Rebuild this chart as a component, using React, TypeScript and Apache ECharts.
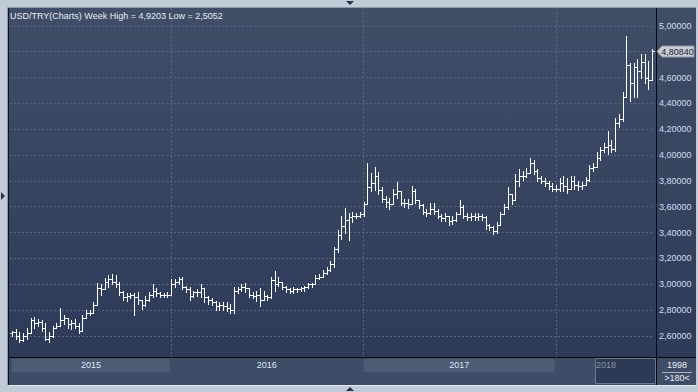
import React, { useEffect, useRef } from 'react';
import * as echarts from 'echarts';

type Bar = [number, number, number, number]; // open, high, low, close

const titleText = 'USD/TRY(Charts) Week High = 4,9203 Low = 2,5052';
const yearLabels = ['2015', '2016', '2017', '2018'];
const priceTicks = [2.6, 2.8, 3.0, 3.2, 3.4, 3.6, 3.8, 4.0, 4.2, 4.4, 4.6, 4.8, 5.0];
const lastPrice = 4.8084;
const cornerTop = '1998';
const cornerBottom = '>180<';

const bars2015: Bar[] = [
  [2.62, 2.64, 2.6, 2.63], [2.63, 2.65, 2.58, 2.6], [2.6, 2.63, 2.55, 2.57], [2.57, 2.62, 2.56, 2.6],
  [2.6, 2.66, 2.58, 2.62], [2.62, 2.74, 2.62, 2.72], [2.72, 2.75, 2.66, 2.7], [2.7, 2.73, 2.68, 2.71],
  [2.71, 2.72, 2.64, 2.66], [2.66, 2.7, 2.57, 2.58], [2.58, 2.63, 2.55, 2.6], [2.6, 2.68, 2.59, 2.66],
  [2.66, 2.7, 2.66, 2.68], [2.68, 2.82, 2.68, 2.72], [2.72, 2.76, 2.69, 2.74], [2.74, 2.74, 2.66, 2.69],
  [2.69, 2.72, 2.65, 2.7], [2.7, 2.73, 2.66, 2.68], [2.68, 2.7, 2.62, 2.64], [2.64, 2.76, 2.64, 2.74],
  [2.74, 2.8, 2.74, 2.78], [2.78, 2.8, 2.76, 2.78], [2.78, 2.86, 2.78, 2.84], [2.84, 3.01, 2.84, 2.97],
  [2.97, 3.0, 2.92, 2.96], [2.96, 3.05, 2.96, 3.02], [3.02, 3.07, 2.98, 3.04], [3.04, 3.08, 3.0, 3.02],
  [3.02, 3.07, 2.98, 3.0], [3.0, 3.02, 2.92, 2.94], [2.94, 2.95, 2.88, 2.9], [2.9, 2.93, 2.87, 2.91],
  [2.91, 2.93, 2.89, 2.92], [2.92, 2.93, 2.76, 2.9], [2.9, 2.94, 2.85, 2.88], [2.88, 2.88, 2.81, 2.84],
  [2.84, 2.91, 2.83, 2.88], [2.88, 2.94, 2.87, 2.92], [2.92, 3.0, 2.9, 2.95], [2.95, 2.97, 2.91, 2.93],
  [2.93, 2.94, 2.9, 2.92], [2.92, 2.93, 2.9, 2.92], [2.92, 2.94, 2.9, 2.92],
];

const bars2016: Bar[] = [
  [2.92, 3.04, 2.92, 3.0], [3.0, 3.04, 2.98, 3.02], [3.02, 3.06, 3.0, 3.04], [3.04, 3.06, 2.96, 2.98],
  [2.98, 2.99, 2.94, 2.96], [2.96, 2.98, 2.88, 2.91], [2.91, 2.95, 2.9, 2.94], [2.94, 2.96, 2.91, 2.94],
  [2.94, 3.0, 2.9, 2.97], [2.97, 2.97, 2.86, 2.9], [2.9, 2.91, 2.85, 2.88], [2.88, 2.89, 2.84, 2.86],
  [2.86, 2.87, 2.8, 2.83], [2.83, 2.86, 2.8, 2.84], [2.84, 2.86, 2.8, 2.83], [2.83, 2.86, 2.79, 2.82],
  [2.82, 2.85, 2.78, 2.8], [2.8, 2.98, 2.78, 2.95], [2.95, 2.98, 2.93, 2.96], [2.96, 3.0, 2.95, 2.98],
  [2.98, 3.01, 2.94, 2.97], [2.97, 2.97, 2.9, 2.92], [2.92, 2.94, 2.89, 2.91], [2.91, 2.95, 2.87, 2.92],
  [2.92, 2.97, 2.83, 2.88], [2.88, 2.95, 2.88, 2.91], [2.91, 2.92, 2.88, 2.9], [2.9, 3.06, 2.89, 3.03],
  [3.03, 3.1, 2.95, 3.0], [3.0, 3.06, 2.99, 3.02], [3.02, 3.02, 2.96, 2.98], [2.98, 2.99, 2.94, 2.96],
  [2.96, 2.97, 2.93, 2.95], [2.95, 2.98, 2.93, 2.96], [2.96, 2.97, 2.94, 2.96], [2.96, 2.98, 2.95, 2.97],
  [2.97, 2.99, 2.95, 2.98], [2.98, 3.01, 2.97, 3.0], [3.0, 3.01, 2.98, 3.0], [3.0, 3.07, 3.0, 3.05],
  [3.05, 3.08, 3.04, 3.06], [3.06, 3.11, 3.06, 3.09], [3.09, 3.13, 3.08, 3.11], [3.11, 3.18, 3.1, 3.16],
  [3.16, 3.29, 3.13, 3.27], [3.27, 3.42, 3.25, 3.38], [3.38, 3.53, 3.35, 3.45], [3.45, 3.59, 3.4, 3.5],
  [3.5, 3.55, 3.34, 3.52], [3.52, 3.56, 3.48, 3.53], [3.53, 3.55, 3.51, 3.53], [3.53, 3.56, 3.52, 3.54],
];

const bars2017: Bar[] = [
  [3.54, 3.64, 3.53, 3.62], [3.62, 3.94, 3.62, 3.75], [3.75, 3.86, 3.72, 3.78], [3.78, 3.91, 3.73, 3.84],
  [3.84, 3.87, 3.7, 3.73], [3.73, 3.75, 3.64, 3.66], [3.66, 3.68, 3.6, 3.64], [3.64, 3.67, 3.58, 3.62],
  [3.62, 3.74, 3.62, 3.7], [3.7, 3.79, 3.67, 3.72], [3.72, 3.72, 3.61, 3.63], [3.63, 3.66, 3.6, 3.63],
  [3.63, 3.66, 3.59, 3.62], [3.62, 3.76, 3.62, 3.72], [3.72, 3.74, 3.63, 3.65], [3.65, 3.65, 3.59, 3.61],
  [3.61, 3.62, 3.54, 3.56], [3.56, 3.58, 3.53, 3.55], [3.55, 3.63, 3.54, 3.58], [3.58, 3.63, 3.54, 3.57],
  [3.57, 3.58, 3.51, 3.53], [3.53, 3.54, 3.49, 3.51], [3.51, 3.55, 3.49, 3.53], [3.53, 3.53, 3.46, 3.49],
  [3.49, 3.53, 3.47, 3.5], [3.5, 3.56, 3.49, 3.54], [3.54, 3.65, 3.54, 3.6], [3.6, 3.61, 3.51, 3.53],
  [3.53, 3.55, 3.5, 3.52], [3.52, 3.55, 3.5, 3.53], [3.53, 3.55, 3.5, 3.52], [3.52, 3.55, 3.5, 3.53],
  [3.53, 3.54, 3.5, 3.52], [3.52, 3.53, 3.43, 3.46], [3.46, 3.47, 3.42, 3.44], [3.44, 3.45, 3.39, 3.41],
  [3.41, 3.48, 3.4, 3.46], [3.46, 3.56, 3.46, 3.54], [3.54, 3.62, 3.54, 3.6], [3.6, 3.75, 3.58, 3.7],
  [3.7, 3.7, 3.62, 3.65], [3.65, 3.85, 3.65, 3.8], [3.8, 3.89, 3.76, 3.84], [3.84, 3.88, 3.81, 3.84],
  [3.84, 3.9, 3.83, 3.86], [3.86, 3.98, 3.86, 3.94], [3.94, 3.96, 3.85, 3.88], [3.88, 3.89, 3.8, 3.82],
  [3.82, 3.84, 3.78, 3.8], [3.8, 3.82, 3.76, 3.78], [3.78, 3.8, 3.74, 3.76], [3.76, 3.78, 3.72, 3.74],
];

const bars2018: Bar[] = [
  [3.74, 3.77, 3.72, 3.74], [3.74, 3.82, 3.72, 3.78], [3.78, 3.84, 3.72, 3.76], [3.76, 3.82, 3.71, 3.74],
  [3.74, 3.84, 3.74, 3.8], [3.8, 3.84, 3.74, 3.77], [3.77, 3.8, 3.73, 3.76], [3.76, 3.79, 3.74, 3.77],
  [3.77, 3.83, 3.77, 3.81], [3.81, 3.92, 3.8, 3.9], [3.9, 3.94, 3.88, 3.91], [3.91, 4.02, 3.91, 3.98],
  [3.98, 4.06, 3.96, 4.04], [4.04, 4.09, 4.02, 4.06], [4.06, 4.19, 4.01, 4.08], [4.08, 4.12, 4.02, 4.05],
  [4.05, 4.29, 4.03, 4.25], [4.25, 4.32, 4.22, 4.28], [4.28, 4.49, 4.26, 4.45], [4.45, 4.9203, 4.45, 4.7],
  [4.7, 4.71, 4.42, 4.56], [4.56, 4.71, 4.45, 4.68], [4.68, 4.74, 4.45, 4.65], [4.65, 4.78, 4.6, 4.72],
  [4.72, 4.78, 4.56, 4.6], [4.6, 4.73, 4.51, 4.58], [4.58, 4.82, 4.58, 4.8084],
];

const FONT = "'Liberation Sans', Arial, sans-serif";

export default function App() {
  const ref = useRef<HTMLDivElement>(null);

  useEffect(() => {
    const el = ref.current;
    if (!el) return;
    const chart = echarts.init(el, null, { renderer: 'svg' });

    const years = [bars2015, bars2016, bars2017, bars2018];
    const all: Bar[] = ([] as Bar[]).concat(...years);
    const cats = all.map((_, i) => 'w' + i);
    const data = all.map((b, i) => [i, b[0], b[1], b[2], b[3]]);
    const yearStart: number[] = [];
    let acc = 0;
    years.forEach((y) => { yearStart.push(acc); acc += y.length; });

    const renderItem = (params: any, api: any) => {
      const i = api.value(0);
      const o = api.value(1);
      const h = api.value(2);
      const l = api.value(3);
      const c = api.value(4);
      const pO = api.coord([i, o]);
      const pH = api.coord([i, h]);
      const pL = api.coord([i, l]);
      const pC = api.coord([i, c]);
      const x = Math.round(pO[0]) + 0.5;
      const st = { stroke: '#ffffff', lineWidth: 1 };
      const yo = Math.round(pO[1]) + 0.5;
      const yc = Math.round(pC[1]) + 0.5;
      return {
        type: 'group',
        children: [
          { type: 'line', shape: { x1: x, y1: Math.round(pH[1]), x2: x, y2: Math.round(pL[1]) + 1 }, style: st },
          { type: 'line', shape: { x1: x - 2, y1: yo, x2: x, y2: yo }, style: st },
          { type: 'line', shape: { x1: x, y1: yc, x2: x + 2.5, y2: yc }, style: st },
        ],
      };
    };

    const option: any = {
      animation: false,
      backgroundColor: {
        type: 'linear', x: 0, y: 0, x2: 0, y2: 1,
        colorStops: [
          { offset: 0, color: '#414e68' },
          { offset: 1, color: '#2b3957' },
        ],
      },
      grid: { left: 10.15, right: 44, top: -4.14, bottom: 30.2, containLabel: false },
      xAxis: {
        type: 'category',
        data: cats,
        boundaryGap: true,
        axisLine: { show: false },
        axisTick: { show: false, alignWithLabel: true },
        axisLabel: { show: false },
        splitLine: { show: false },
      },
      yAxis: {
        type: 'value',
        position: 'right',
        min: 2.4,
        max: 5.2,
        interval: 0.2,
        axisLine: { show: false },
        axisTick: { show: false },
        axisLabel: {
          margin: 5,
          color: '#d3ddef',
          fontSize: 9,
          fontFamily: FONT,
          formatter: (v: number) => {
            const ok = priceTicks.some((t) => Math.abs(t - v) < 1e-6);
            // the last-price tag covers the tick label it sits on
            if (Math.abs(v - lastPrice) < 0.06) return '';
            return ok ? v.toFixed(5).replace('.', ',') : '';
          },
        },
        splitLine: { show: true, lineStyle: { color: '#5a6782', width: 1, type: [2, 2] } },
      },
      series: [
        {
          type: 'custom',
          renderItem,
          data,
          encode: { x: 0, y: [1, 2, 3, 4] },
          z: 5,
          markLine: {
            silent: true,
            symbol: 'none',
            label: { show: false },
            lineStyle: { color: '#5a6782', width: 1, type: [2, 2] },
            data: yearStart.slice(1).map((s) => ({ xAxis: cats[s] })),
          },
        },
      ],
    };

    chart.setOption(option);

    const px = (i: number) => chart.convertToPixel({ xAxisIndex: 0 }, cats[i]) as number;
    const tagY = chart.convertToPixel({ yAxisIndex: 0 }, lastPrice) as number;

    const bandTop = 358;
    const g: any[] = [];
    g.push({ type: 'rect', z: 100, shape: { x: 8, y: 357, width: 688, height: 28 }, style: { fill: '#3f4c67' } });
    yearLabels.forEach((lab, k) => {
      const x0 = k === 0 ? px(0) : px(yearStart[k]);
      const x1 = k < yearLabels.length - 1 ? px(yearStart[k + 1]) - 1 : 655;
      if (k === 0 || k === 2) {
        g.push({ type: 'rect', z: 101, shape: { x: x0, y: bandTop + 1, width: x1 - x0, height: 13 }, style: { fill: '#4d5a74' } });
      }
      if (k < yearLabels.length - 1) {
        g.push({
          type: 'text', z: 103, x: (x0 + x1) / 2, y: 365,
          style: { text: lab, fill: '#dfe6f1', font: `9px ${FONT}`, align: 'center', verticalAlign: 'middle' },
        });
      }
    });
    g.push({ type: 'rect', z: 101, shape: { x: 595.5, y: 358.5, width: 60, height: 25 }, style: { fill: '#2d3a55', stroke: '#6e7890', lineWidth: 1 } });
    g.push({ type: 'text', z: 103, x: 596, y: 365, style: { text: yearLabels[3], fill: '#8b94a6', font: `9px ${FONT}`, align: 'left', verticalAlign: 'middle' } });
    g.push({ type: 'rect', z: 101, shape: { x: 657, y: 358, width: 38, height: 26 }, style: { fill: '#3f4c67' } });
    g.push({ type: 'text', z: 103, x: 677, y: 364.5, style: { text: cornerTop, fill: '#e8edf5', font: `9px ${FONT}`, align: 'center', verticalAlign: 'middle' } });
    g.push({ type: 'line', z: 103, shape: { x1: 662, y1: 372.5, x2: 692, y2: 372.5 }, style: { stroke: '#aab3c4', lineWidth: 1 } });
    g.push({ type: 'text', z: 103, x: 677, y: 378, style: { text: cornerBottom, fill: '#e8edf5', font: `9px ${FONT}`, align: 'center', verticalAlign: 'middle' } });
    g.push({ type: 'line', z: 104, shape: { x1: 8, y1: 357.5, x2: 696, y2: 357.5 }, style: { stroke: '#05070c', lineWidth: 1 } });
    g.push({ type: 'line', z: 104, shape: { x1: 656.5, y1: 8, x2: 656.5, y2: 385 }, style: { stroke: '#05070c', lineWidth: 1 } });
    g.push({ type: 'line', z: 104, shape: { x1: 8.5, y1: 8, x2: 8.5, y2: 385 }, style: { stroke: '#0c111b', lineWidth: 1 } });
    const frame = '#c1cbd8';
    g.push({ type: 'rect', z: 110, shape: { x: 0, y: 0, width: 698, height: 8 }, style: { fill: frame } });
    g.push({ type: 'rect', z: 110, shape: { x: 0, y: 0, width: 8, height: 392 }, style: { fill: frame } });
    g.push({ type: 'rect', z: 110, shape: { x: 0, y: 385, width: 698, height: 7 }, style: { fill: frame } });
    g.push({ type: 'rect', z: 110, shape: { x: 696, y: 0, width: 2, height: 392 }, style: { fill: frame } });
    g.push({ type: 'line', z: 111, shape: { x1: 7.5, y1: 7.5, x2: 696.5, y2: 7.5 }, style: { stroke: '#8e99aa', lineWidth: 1 } });
    g.push({ type: 'line', z: 111, shape: { x1: 7.5, y1: 7.5, x2: 7.5, y2: 385.5 }, style: { stroke: '#8e99aa', lineWidth: 1 } });
    g.push({ type: 'line', z: 111, shape: { x1: 7.5, y1: 385.5, x2: 696.5, y2: 385.5 }, style: { stroke: '#e2e7ee', lineWidth: 1 } });
    g.push({ type: 'polygon', z: 112, shape: { points: [[346, 1], [354, 1], [350, 5]] }, style: { fill: '#2a3243' } });
    g.push({ type: 'polygon', z: 112, shape: { points: [[346, 391], [354, 391], [350, 387]] }, style: { fill: '#2a3243' } });
    g.push({ type: 'polygon', z: 112, shape: { points: [[1, 192], [1, 200], [5, 196]] }, style: { fill: '#2a3243' } });
    g.push({ type: 'text', z: 105, x: 10, y: 15.5, style: { text: titleText, fill: '#e7ecf4', font: `9px ${FONT}`, align: 'left', verticalAlign: 'middle' } });
    const ty = Math.round(tagY) + 0.5;
    g.push({
      type: 'polygon', z: 106,
      shape: { points: [[657, ty], [662, ty - 5.5], [694, ty - 5.5], [694, ty + 5.5], [662, ty + 5.5]] },
      style: { fill: '#c8cdd6', stroke: '#8f97a6', lineWidth: 1 },
    });
    g.push({
      type: 'text', z: 107, x: 677.5, y: ty,
      style: { text: lastPrice.toFixed(5).replace('.', ','), fill: '#1c2230', font: `9px ${FONT}`, align: 'center', verticalAlign: 'middle' },
    });

    chart.setOption({ graphic: g });

    return () => chart.dispose();
  }, []);

  return <div ref={ref} style={{ position: 'fixed', left: 0, top: 0, width: 698, height: 392 }} />;
}
